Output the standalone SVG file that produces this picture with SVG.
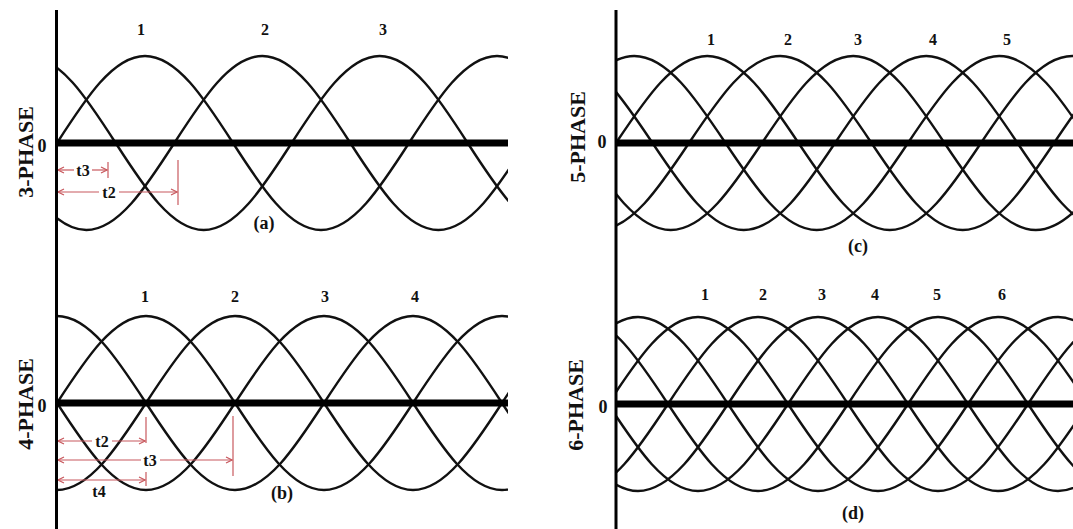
<svg xmlns="http://www.w3.org/2000/svg" width="1073" height="529" viewBox="0 0 1073 529">
<style>
.wave{fill:none;stroke:#111;stroke-width:2.4}
.axis{stroke:#000;stroke-width:3}
.zero{stroke:#000;stroke-width:7}
.lbl{font-family:"Liberation Serif",serif;font-weight:bold;fill:#111}
.num{font-size:16px;text-anchor:middle}
.ph{font-size:22px;text-anchor:middle}
.z{font-size:18px;text-anchor:middle}
.sub{font-size:18px;text-anchor:middle}
.t{font-size:16px;text-anchor:middle}
.dim{stroke:#c8595e;stroke-width:1.2;fill:none}
.arr{marker-end:url(#ah)}
</style>
<defs>
<marker id="ah" viewBox="-7 -4 8 8" refX="0" refY="0" markerWidth="8" markerHeight="8" markerUnits="userSpaceOnUse" orient="auto">
<path d="M-6,-3 L0,0 L-6,3" fill="none" stroke="#c8595e" stroke-width="1.2"/>
</marker>
<clipPath id="ca"><rect x="57" y="0" width="451" height="265"/></clipPath>
<clipPath id="cb"><rect x="57" y="265" width="451" height="264"/></clipPath>
<clipPath id="cc"><rect x="617" y="0" width="456" height="265"/></clipPath>
<clipPath id="cd"><rect x="617" y="265" width="456" height="264"/></clipPath>
</defs>
<rect width="1073" height="529" fill="#fff"/>

<g id="panel-a">
<g clip-path="url(#ca)">
<path class="wave" d="M57,143 c28.7,-44.57 56.17,-87 88,-87 s59.3,42.43 88,87 s56.17,87 88,87 s59.3,-42.43 88,-87 s56.17,-87 88,-87 s59.3,42.43 88,87 s56.17,87 88,87 s59.3,-42.43 88,-87 s56.17,-87 88,-87"/>
<path class="wave" d="M-177.67,143 c28.7,-44.57 56.17,-87 88,-87 s59.3,42.43 88,87 s56.17,87 88,87 s59.3,-42.43 88,-87 s56.17,-87 88,-87 s59.3,42.43 88,87 s56.17,87 88,87 s59.3,-42.43 88,-87 s56.17,-87 88,-87"/>
<path class="wave" d="M-60.33,143 c28.7,-44.57 56.17,-87 88,-87 s59.3,42.43 88,87 s56.17,87 88,87 s59.3,-42.43 88,-87 s56.17,-87 88,-87 s59.3,42.43 88,87 s56.17,87 88,87 s59.3,-42.43 88,-87 s56.17,-87 88,-87"/>
</g>
<line class="zero" x1="56" y1="143" x2="508" y2="143"/>
<text class="lbl num" x="141" y="35">1</text>
<text class="lbl num" x="265" y="35">2</text>
<text class="lbl num" x="383" y="35">3</text>
<text class="lbl z" x="42" y="152">0</text>
<text class="lbl ph" transform="translate(33,152) rotate(-90)">3-PHASE</text>
<text class="lbl sub" x="264" y="229">(a)</text>
<g id="dims-a">
<line class="dim arr" x1="74" y1="170" x2="58" y2="170"/>
<line class="dim arr" x1="92" y1="170" x2="107" y2="170"/>
<line class="dim" x1="108" y1="162" x2="108" y2="178"/>
<text class="lbl t" x="83" y="176">t3</text>
<line class="dim arr" x1="99" y1="192" x2="58" y2="192"/>
<line class="dim arr" x1="119" y1="192" x2="177" y2="192"/>
<line class="dim" x1="178" y1="160" x2="178" y2="205"/>
<text class="lbl t" x="109" y="198">t2</text>
</g>
</g>

<g id="panel-b">
<g clip-path="url(#cb)">
<path class="wave" d="M57,403 c29.02,-44.57 56.81,-87 89,-87 s59.98,42.43 89,87 s56.81,87 89,87 s59.98,-42.43 89,-87 s56.81,-87 89,-87 s59.98,42.43 89,87 s56.81,87 89,87 s59.98,-42.43 89,-87 s56.81,-87 89,-87"/>
<path class="wave" d="M-210,403 c29.02,-44.57 56.81,-87 89,-87 s59.98,42.43 89,87 s56.81,87 89,87 s59.98,-42.43 89,-87 s56.81,-87 89,-87 s59.98,42.43 89,87 s56.81,87 89,87 s59.98,-42.43 89,-87 s56.81,-87 89,-87"/>
<path class="wave" d="M-121,403 c29.02,-44.57 56.81,-87 89,-87 s59.98,42.43 89,87 s56.81,87 89,87 s59.98,-42.43 89,-87 s56.81,-87 89,-87 s59.98,42.43 89,87 s56.81,87 89,87 s59.98,-42.43 89,-87 s56.81,-87 89,-87"/>
<path class="wave" d="M-32,403 c29.02,-44.57 56.81,-87 89,-87 s59.98,42.43 89,87 s56.81,87 89,87 s59.98,-42.43 89,-87 s56.81,-87 89,-87 s59.98,42.43 89,87 s56.81,87 89,87 s59.98,-42.43 89,-87 s56.81,-87 89,-87"/>
</g>
<line class="zero" x1="56" y1="403" x2="508" y2="403"/>
<text class="lbl num" x="145" y="302">1</text>
<text class="lbl num" x="235" y="302">2</text>
<text class="lbl num" x="325" y="302">3</text>
<text class="lbl num" x="415" y="302">4</text>
<text class="lbl z" x="42" y="412">0</text>
<text class="lbl ph" transform="translate(33,404) rotate(-90)">4-PHASE</text>
<text class="lbl sub" x="282" y="499">(b)</text>
<g id="dims-b">
<line class="dim arr" x1="92" y1="441" x2="58" y2="441"/>
<line class="dim arr" x1="112" y1="441" x2="145" y2="441"/>
<line class="dim" x1="146" y1="417" x2="146" y2="443"/>
<text class="lbl t" x="102" y="447">t2</text>
<line class="dim arr" x1="141" y1="460" x2="58" y2="460"/>
<line class="dim arr" x1="160" y1="460" x2="232" y2="460"/>
<line class="dim" x1="233" y1="416" x2="233" y2="476"/>
<text class="lbl t" x="150" y="466">t3</text>
<line class="dim arr" x1="100" y1="480" x2="58" y2="480"/>
<line class="dim arr" x1="100" y1="480" x2="145" y2="480"/>
<line class="dim" x1="146" y1="472" x2="146" y2="486"/>
<text class="lbl t" x="99" y="497">t4</text>
</g>
</g>

<g id="panel-c">
<g clip-path="url(#cc)">
<path class="wave" d="M251,143 c29.76,-44.57 58.24,-87 91.25,-87 s61.49,42.43 91.25,87 s58.24,87 91.25,87 s61.49,-42.43 91.25,-87 s58.24,-87 91.25,-87 s61.49,42.43 91.25,87 s58.24,87 91.25,87 s61.49,-42.43 91.25,-87 s58.24,-87 91.25,-87 s61.49,42.43 91.25,87 s58.24,87 91.25,87"/>
<path class="wave" d="M324,143 c29.76,-44.57 58.24,-87 91.25,-87 s61.49,42.43 91.25,87 s58.24,87 91.25,87 s61.49,-42.43 91.25,-87 s58.24,-87 91.25,-87 s61.49,42.43 91.25,87 s58.24,87 91.25,87 s61.49,-42.43 91.25,-87 s58.24,-87 91.25,-87 s61.49,42.43 91.25,87 s58.24,87 91.25,87"/>
<path class="wave" d="M397,143 c29.76,-44.57 58.24,-87 91.25,-87 s61.49,42.43 91.25,87 s58.24,87 91.25,87 s61.49,-42.43 91.25,-87 s58.24,-87 91.25,-87 s61.49,42.43 91.25,87 s58.24,87 91.25,87 s61.49,-42.43 91.25,-87 s58.24,-87 91.25,-87 s61.49,42.43 91.25,87 s58.24,87 91.25,87"/>
<path class="wave" d="M470,143 c29.76,-44.57 58.24,-87 91.25,-87 s61.49,42.43 91.25,87 s58.24,87 91.25,87 s61.49,-42.43 91.25,-87 s58.24,-87 91.25,-87 s61.49,42.43 91.25,87 s58.24,87 91.25,87 s61.49,-42.43 91.25,-87 s58.24,-87 91.25,-87 s61.49,42.43 91.25,87 s58.24,87 91.25,87"/>
<path class="wave" d="M543,143 c29.76,-44.57 58.24,-87 91.25,-87 s61.49,42.43 91.25,87 s58.24,87 91.25,87 s61.49,-42.43 91.25,-87 s58.24,-87 91.25,-87 s61.49,42.43 91.25,87 s58.24,87 91.25,87 s61.49,-42.43 91.25,-87 s58.24,-87 91.25,-87 s61.49,42.43 91.25,87 s58.24,87 91.25,87"/>
</g>
<line class="zero" x1="616" y1="143" x2="1073" y2="143"/>
<text class="lbl num" x="711" y="45">1</text>
<text class="lbl num" x="788" y="45">2</text>
<text class="lbl num" x="858" y="45">3</text>
<text class="lbl num" x="933" y="45">4</text>
<text class="lbl num" x="1007" y="45">5</text>
<text class="lbl z" x="602" y="148">0</text>
<text class="lbl ph" transform="translate(585,137) rotate(-90)">5-PHASE</text>
<text class="lbl sub" x="858" y="252">(c)</text>
</g>

<g id="panel-d">
<g clip-path="url(#cd)">
<path class="wave" d="M248,404 c29.35,-44.57 57.45,-87 90,-87 s60.65,42.43 90,87 s57.45,87 90,87 s60.65,-42.43 90,-87 s57.45,-87 90,-87 s60.65,42.43 90,87 s57.45,87 90,87 s60.65,-42.43 90,-87 s57.45,-87 90,-87 s60.65,42.43 90,87 s57.45,87 90,87"/>
<path class="wave" d="M308,404 c29.35,-44.57 57.45,-87 90,-87 s60.65,42.43 90,87 s57.45,87 90,87 s60.65,-42.43 90,-87 s57.45,-87 90,-87 s60.65,42.43 90,87 s57.45,87 90,87 s60.65,-42.43 90,-87 s57.45,-87 90,-87 s60.65,42.43 90,87 s57.45,87 90,87"/>
<path class="wave" d="M368,404 c29.35,-44.57 57.45,-87 90,-87 s60.65,42.43 90,87 s57.45,87 90,87 s60.65,-42.43 90,-87 s57.45,-87 90,-87 s60.65,42.43 90,87 s57.45,87 90,87 s60.65,-42.43 90,-87 s57.45,-87 90,-87 s60.65,42.43 90,87 s57.45,87 90,87"/>
<path class="wave" d="M428,404 c29.35,-44.57 57.45,-87 90,-87 s60.65,42.43 90,87 s57.45,87 90,87 s60.65,-42.43 90,-87 s57.45,-87 90,-87 s60.65,42.43 90,87 s57.45,87 90,87 s60.65,-42.43 90,-87 s57.45,-87 90,-87 s60.65,42.43 90,87 s57.45,87 90,87"/>
<path class="wave" d="M488,404 c29.35,-44.57 57.45,-87 90,-87 s60.65,42.43 90,87 s57.45,87 90,87 s60.65,-42.43 90,-87 s57.45,-87 90,-87 s60.65,42.43 90,87 s57.45,87 90,87 s60.65,-42.43 90,-87 s57.45,-87 90,-87 s60.65,42.43 90,87 s57.45,87 90,87"/>
<path class="wave" d="M548,404 c29.35,-44.57 57.45,-87 90,-87 s60.65,42.43 90,87 s57.45,87 90,87 s60.65,-42.43 90,-87 s57.45,-87 90,-87 s60.65,42.43 90,87 s57.45,87 90,87 s60.65,-42.43 90,-87 s57.45,-87 90,-87 s60.65,42.43 90,87 s57.45,87 90,87"/>
</g>
<line class="zero" x1="616" y1="404" x2="1073" y2="404"/>
<text class="lbl num" x="705" y="300">1</text>
<text class="lbl num" x="763" y="300">2</text>
<text class="lbl num" x="822" y="300">3</text>
<text class="lbl num" x="875" y="300">4</text>
<text class="lbl num" x="937" y="300">5</text>
<text class="lbl num" x="1002" y="300">6</text>
<text class="lbl z" x="603" y="413">0</text>
<text class="lbl ph" transform="translate(583,405) rotate(-90)">6-PHASE</text>
<text class="lbl sub" x="853" y="519">(d)</text>
</g>

<g id="axes">
<line class="axis" x1="56.5" y1="10" x2="56.5" y2="529"/>
<line class="axis" x1="616" y1="10" x2="616" y2="529"/>
</g>
</svg>
